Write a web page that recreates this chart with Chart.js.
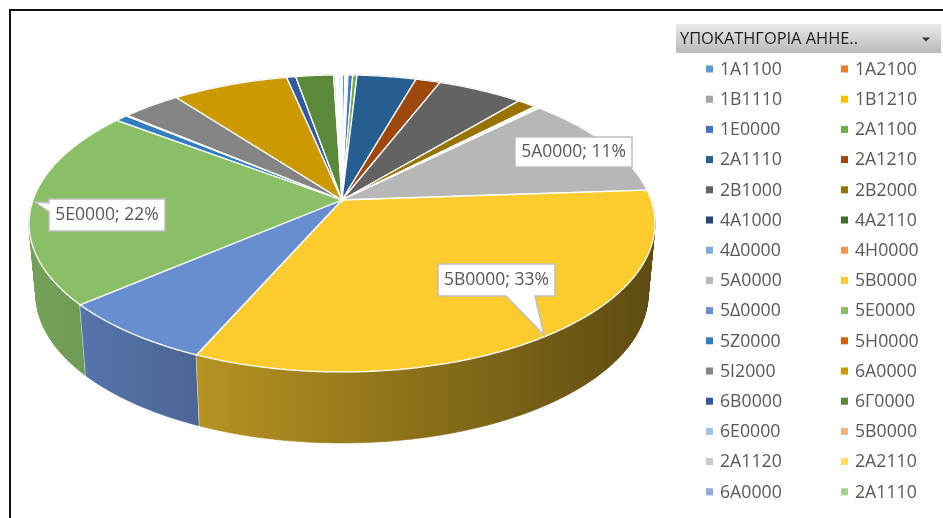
<!DOCTYPE html>
<html>
<head>
<meta charset="utf-8">
<script src="https://cdn.jsdelivr.net/npm/chart.js@4"></script>
<style>
  html, body { margin: 0; padding: 0; background: #fff; overflow: hidden; }
  canvas { display: block; }
</style>
</head>
<body>
<canvas id="pieChart" width="943" height="518"></canvas>
<script>
const categories = [
  "1A1100", "1A2100", "1B1110", "1B1210", "1E0000", "2A1100",
  "2A1110", "2A1210", "2B1000", "2B2000", "4A1000", "4A2110",
  "4Δ0000", "4H0000", "5A0000", "5B0000", "5Δ0000", "5E0000",
  "5Z0000", "5H0000", "5I2000", "6A0000", "6B0000", "6Γ0000",
  "6E0000", "5B0000", "2A1120", "2A2110", "6A0000", "2A1110"
];
const shares = [
  0.18, 0.03, 0.08, 0.07, 0.28, 0.26,
  3.55, 1.48, 5.15, 1.15, 0.06, 0.12,
  0.08, 0.06, 11.35, 32.7, 7.15, 21.55,
  0.75, 0.08, 3.55, 7.0, 0.55, 2.27,
  0.12, 0.08, 0.08, 0.04, 0.1, 0.08
];
const sliceColors = [
  "#5B9BD5", "#ED7D31", "#A5A5A5", "#FFC000", "#4472C4", "#70AD47",
  "#255E91", "#9E480E", "#636363", "#997300", "#264478", "#43682B",
  "#7CAFDD", "#F1975A", "#B7B7B7", "#FCCB2E", "#698ED0", "#8ABF67",
  "#327DC2", "#D26012", "#848484", "#CC9A00", "#335AA1", "#5A8A39",
  "#9DC3E6", "#F4B183", "#C9C9C9", "#FFD966", "#8FAADC", "#A9D18E"
];
const filterTitle = "ΥΠΟΚΑΤΗΓΟΡΙΑ ΑΗΗΕ..";
const calloutTexts = ["5A0000; 11%", "5B0000; 33%", "5E0000; 22%"];

const FONT = '"Open Sans", sans-serif';

// perspective of the tilted pie
const PIE = { cx: 342, cy: 200, rx: 309, ry: 144.8, k: 0.158, depth: 71, shrink: 0.978 };

function project(theta, r) {
  const w = 1 + PIE.k * r * Math.cos(theta);
  return {
    x: PIE.cx + PIE.rx * r * Math.sin(theta) / w,
    y: PIE.cy - PIE.ry * r * Math.cos(theta) / w
  };
}

function lower(p) {
  return { x: PIE.cx + (p.x - PIE.cx) * PIE.shrink, y: p.y + PIE.depth };
}

function arcPoints(a, b) {
  const steps = Math.max(2, Math.ceil((b - a) / 0.01));
  const pts = [];
  for (let i = 0; i <= steps; i++) {
    pts.push(project(a + (b - a) * i / steps, 1));
  }
  return pts;
}

function shade(hex, f) {
  const n = parseInt(hex.slice(1), 16);
  const r = Math.round((n >> 16 & 255) * f);
  const g = Math.round((n >> 8 & 255) * f);
  const b = Math.round((n & 255) * f);
  return `rgb(${r},${g},${b})`;
}

function sliceAngles(arc) {
  // Chart.js angles start at 3 o'clock, ours at 12
  return [arc.startAngle + Math.PI / 2, arc.endAngle + Math.PI / 2];
}

function tracePath(ctx, pts) {
  ctx.beginPath();
  pts.forEach((p, i) => (i ? ctx.lineTo(p.x, p.y) : ctx.moveTo(p.x, p.y)));
  ctx.closePath();
}

function drawWalls(ctx, arcs) {
  // back to front, the top face hides whatever is behind it
  const order = arcs.map((arc, i) => i).sort((p, q) => {
    const [a1, a2] = sliceAngles(arcs[p]);
    const [b1, b2] = sliceAngles(arcs[q]);
    return Math.cos((b1 + b2) / 2) - Math.cos((a1 + a2) / 2);
  });
  order.forEach(i => {
    const [a, b] = sliceAngles(arcs[i]);
    const top = arcPoints(a, b);
    const grad = ctx.createLinearGradient(30, 0, 655, 0);
    grad.addColorStop(0, shade(sliceColors[i], 0.85));
    grad.addColorStop(1, shade(sliceColors[i], 0.37));
    // small quads, so the silhouette at both ends of the pie is closed
    ctx.beginPath();
    for (let s = 0; s < top.length - 1; s++) {
      const p1 = top[s], p2 = top[s + 1], q2 = lower(p2), q1 = lower(p1);
      ctx.moveTo(p1.x, p1.y);
      ctx.lineTo(p2.x, p2.y);
      ctx.lineTo(q2.x, q2.y);
      ctx.lineTo(q1.x, q1.y);
      ctx.closePath();
    }
    ctx.fillStyle = grad;
    ctx.strokeStyle = grad;
    ctx.lineWidth = 0.6;
    ctx.fill();
    ctx.stroke();
    const low = lower(top[0]);
    ctx.strokeStyle = "#fff";
    ctx.lineWidth = 1.5;
    ctx.beginPath();
    ctx.moveTo(top[0].x, top[0].y);
    ctx.lineTo(low.x, low.y);
    ctx.stroke();
  });
}

function drawTop(ctx, arcs) {
  arcs.forEach((arc, i) => {
    const [a, b] = sliceAngles(arc);
    tracePath(ctx, [{ x: PIE.cx, y: PIE.cy }].concat(arcPoints(a, b)));
    ctx.fillStyle = sliceColors[i];
    ctx.fill();
    ctx.strokeStyle = "#fff";
    ctx.lineWidth = 1.3;
    ctx.stroke();
  });
}

function drawCallout(ctx, text, outline) {
  tracePath(ctx, outline.points);
  ctx.fillStyle = "#fff";
  ctx.fill();
  ctx.strokeStyle = "#BFBFBF";
  ctx.lineWidth = 1.5;
  ctx.stroke();
  ctx.fillStyle = "#595959";
  ctx.font = "17.5px " + FONT;
  ctx.textAlign = "center";
  ctx.textBaseline = "middle";
  ctx.fillText(text, outline.tx, outline.ty);
}

function drawCallouts(ctx) {
  drawCallout(ctx, calloutTexts[0], {
    tx: 573.5, ty: 152,
    points: [{ x: 515, y: 137 }, { x: 632, y: 137 }, { x: 632, y: 167 }, { x: 515, y: 167 }]
  });
  drawCallout(ctx, calloutTexts[1], {
    tx: 496.5, ty: 280,
    points: [{ x: 438, y: 264 }, { x: 555, y: 264 }, { x: 555, y: 296 }, { x: 535, y: 296 },
      { x: 544, y: 335 }, { x: 506, y: 296 }, { x: 438, y: 296 }]
  });
  drawCallout(ctx, calloutTexts[2], {
    tx: 107, ty: 215,
    points: [{ x: 49, y: 199 }, { x: 165, y: 199 }, { x: 165, y: 231 }, { x: 49, y: 231 },
      { x: 49, y: 212 }, { x: 35, y: 202 }, { x: 49, y: 203 }]
  });
}

function drawFilterLegend(ctx) {
  const grad = ctx.createLinearGradient(0, 24, 0, 53);
  grad.addColorStop(0, "#E9E9E9");
  grad.addColorStop(1, "#BABABA");
  ctx.fillStyle = grad;
  ctx.fillRect(676, 24, 265, 29);
  ctx.fillStyle = "#1F1F1F";
  ctx.font = "16.4px " + FONT;
  ctx.textAlign = "left";
  ctx.textBaseline = "middle";
  ctx.fillText(filterTitle, 680, 39.5);
  ctx.fillStyle = "#333";
  ctx.beginPath();
  ctx.moveTo(922, 37.5);
  ctx.lineTo(930, 37.5);
  ctx.lineTo(926, 41.5);
  ctx.closePath();
  ctx.fill();

  ctx.font = "17.7px " + FONT;
  categories.forEach((name, i) => {
    const col = i % 2;
    const row = Math.floor(i / 2);
    const y = 69 + row * 30.2;
    ctx.fillStyle = sliceColors[i];
    ctx.fillRect(col ? 841 : 706, y - 3.5, 7, 7);
    ctx.fillStyle = "#595959";
    ctx.fillText(name, col ? 855 : 720, y + 0.8);
  });
}

const tiltedPie = {
  id: "tiltedPie",
  beforeDatasetDraw(chart, args) {
    const ctx = chart.ctx;
    const arcs = chart.getDatasetMeta(args.index).data;
    ctx.save();
    drawWalls(ctx, arcs);
    drawTop(ctx, arcs);
    ctx.restore();
    return false;
  },
  afterDatasetsDraw(chart) {
    const ctx = chart.ctx;
    ctx.save();
    drawCallouts(ctx);
    drawFilterLegend(ctx);
    // sheet frame
    ctx.fillStyle = "#111";
    ctx.fillRect(9, 9, 934, 2);
    ctx.fillRect(9, 9, 2, 509);
    ctx.restore();
  }
};

new Chart(document.getElementById("pieChart").getContext("2d"), {
  type: "pie",
  data: {
    labels: categories,
    datasets: [{ data: shares, backgroundColor: sliceColors }]
  },
  options: {
    responsive: false,
    animation: false,
    plugins: { legend: { display: false }, tooltip: { enabled: false } }
  },
  plugins: [tiltedPie]
});
</script>
</body>
</html>
